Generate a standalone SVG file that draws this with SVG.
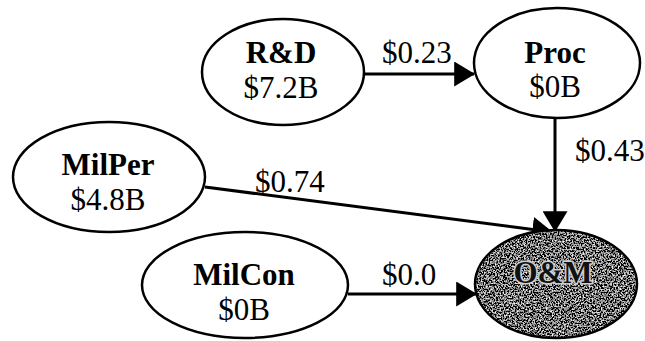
<svg xmlns="http://www.w3.org/2000/svg" width="645" height="341" viewBox="0 0 645 341">
  <style>
    .node { fill: #ffffff; stroke: #000000; stroke-width: 2.5; }
    .name { font-family: "Liberation Serif", "Times New Roman", serif; font-weight: bold; font-size: 31px; fill: #000000; text-anchor: middle; }
    .amt { font-family: "Liberation Serif", "Times New Roman", serif; font-size: 31px; fill: #000000; text-anchor: middle; }
    .lbl { font-family: "Liberation Serif", "Times New Roman", serif; font-size: 31px; fill: #000000; }
    .edge { fill: none; stroke: #000000; stroke-width: 3; marker-end: url(#head); }
    .dark { fill: #111111; stroke: #cfcfcf; stroke-width: 3; paint-order: stroke; }
  </style>
  <defs>
    <marker id="head" viewBox="0 0 20 24" refX="19" refY="12" markerWidth="21" markerHeight="25" markerUnits="userSpaceOnUse" orient="auto">
      <path d="M0,0 L20,12 L0,24 Z" fill="#000000"/>
    </marker>
    <!-- speckled dark grey fill for the O&M node -->
    <filter id="grain" x="0" y="0" width="100%" height="100%">
      <feTurbulence type="fractalNoise" baseFrequency="0.65" numOctaves="2" seed="7" result="noise"/>
      <feColorMatrix in="noise" type="matrix" values="2.8 0 0 0 -1.22  2.8 0 0 0 -1.22  2.8 0 0 0 -1.22  0 0 0 0 1" result="grey"/>
      <feComposite in="grey" in2="SourceGraphic" operator="in"/>
    </filter>
  </defs>

  <rect width="645" height="341" fill="#ffffff"/>

  <g id="connectors">
    <line class="edge" x1="363" y1="74" x2="474" y2="74"/>
    <line class="edge" x1="555" y1="118" x2="555" y2="231"/>
    <line class="edge" x1="205" y1="187" x2="552" y2="232"/>
    <line class="edge" x1="348" y1="294" x2="476" y2="294"/>
    <text class="lbl" x="382" y="63">$0.23</text>
    <text class="lbl" x="575" y="161">$0.43</text>
    <text class="lbl" x="255" y="192">$0.74</text>
    <text class="lbl" x="382" y="285">$0.0</text>
  </g>

  <g id="rd">
    <ellipse class="node" cx="283" cy="72" rx="81" ry="53"/>
    <text class="name" x="281" y="63">R&amp;D</text>
    <text class="amt" x="281" y="98">$7.2B</text>
  </g>

  <g id="proc">
    <ellipse class="node" cx="557" cy="63" rx="83" ry="55"/>
    <text class="name" x="555" y="63">Proc</text>
    <text class="amt" x="555" y="97">$0B</text>
  </g>

  <g id="milper">
    <ellipse class="node" cx="109" cy="177" rx="96" ry="55"/>
    <text class="name" x="108" y="175">MilPer</text>
    <text class="amt" x="108" y="210">$4.8B</text>
  </g>

  <g id="milcon">
    <ellipse class="node" cx="245" cy="285" rx="103" ry="53"/>
    <text class="name" x="244" y="285">MilCon</text>
    <text class="amt" x="244" y="320">$0B</text>
  </g>

  <g id="om">
    <ellipse cx="556" cy="284" rx="81" ry="54" fill="#000000" filter="url(#grain)"/>
    <ellipse cx="556" cy="284" rx="81" ry="54" fill="none" stroke="#000000" stroke-width="2.5"/>
    <text class="name dark" x="553" y="283" font-size="30">O&amp;M</text>
  </g>
</svg>
